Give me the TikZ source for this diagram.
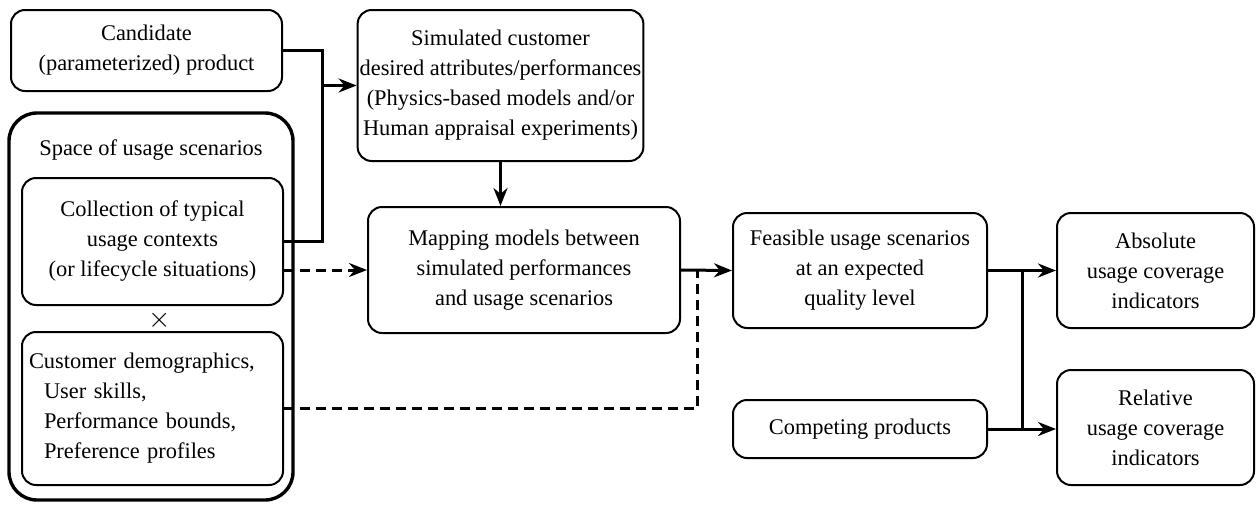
\documentclass[tikz,border=0pt]{standalone}
\usepackage{fontspec}
\setmainfont{Liberation Serif}
\usepackage{tikz}
\usetikzlibrary{arrows.meta,positioning}

\begin{document}
\begin{tikzpicture}[x = 0.5pt, y = -0.5pt,
  every node/.style = {font = \rmfamily\fontsize{11.2}{15}\selectfont},
  box/.style = {draw, line width = 1pt, shape = rectangle, rounded corners = 7pt, align = center, inner sep = 1pt},
  bigbox/.style = {draw, line width = 1.7pt, shape = rectangle, rounded corners = 14pt, minimum width = 142pt, minimum height = 193.5pt},
  line/.style = {line width = 1.5pt},
  arrow/.style = {line width = 1.5pt, -{Stealth[length = 9pt, width = 7pt]}},
  dashline/.style = {line width = 1.5pt, dash pattern = on 5pt off 3pt},
  dasharrow/.style = {dashline, -{Stealth[length = 9pt, width = 7pt]}}]
\useasboundingbox (0,0) rectangle (1256,504);
\node[box, minimum width = 135.5pt, minimum height = 40.5pt] (1) at (146.5,50.5) {Candidate\\(parameterized) product};
\node[box, minimum width = 138.5pt, minimum height = 75.5pt] (2) at (500.5,85.5) {Simulated customer\\desired attributes/performances\\(Physics-based models and/or\\Human appraisal experiments)};
\node[bigbox] (3) at (151,306.5) {};
\node (12) at (151,150) {Space of usage scenarios};
\node[box, minimum width = 130.5pt, minimum height = 63.5pt] (4) at (152.5,241.5) {Collection of typical\\usage contexts\\(or lifecycle situations)};
\node[font = \fontsize{15}{15}\selectfont] (11) at (160,320) {$\times$};
\node[box, align = left, inner xsep = 3.5pt, text width = 123.5pt, minimum height = 76.5pt] (5) at (152.5,408.5) {Customer demographics,\\\hspace*{7.5pt}User skills,\\\hspace*{7.5pt}Performance bounds,\\\hspace*{7.5pt}Preference profiles};
\node[box, minimum width = 156pt, minimum height = 63pt] (6) at (524,270) {Mapping models between\\simulated performances\\and usage scenarios};
\node[box, minimum width = 127pt, minimum height = 57.5pt] (7) at (860,270.5) {Feasible usage scenarios\\at an expected\\quality level};
\node[box, minimum width = 127pt, minimum height = 29pt] (8) at (860,429) {Competing products};
\node[box, minimum width = 98.5pt, minimum height = 57.5pt] (9) at (1155.5,270.5) {Absolute\\usage coverage\\indicators};
\node[box, minimum width = 98.5pt, minimum height = 57.5pt] (10) at (1155.5,427.5) {Relative\\usage coverage\\indicators};
\coordinate (j1) at (2.west -| 322,0);
\coordinate (j2) at (6.east -| 697,0);
\coordinate (j3) at (7.east -| 1022,0);
\draw[line] (1.east) -| (j1) |- (4.east);
\draw[arrow] (j1) -- (2.west);
\draw[arrow] (2.south) -- (2.south |- 6.north);
\draw[dasharrow] (4.east |- 6.west) -- (6.west);
\draw[arrow] (6.east) -- (7.west);
\draw[dashline] (5.east) -| (j2);
\draw[arrow] (7.east) -- (9.west);
\draw[arrow] (8.east) -- (8.east -| 10.west);
\draw[line] (j3) -- (j3 |- 8.east);
\end{tikzpicture}
\end{document}
